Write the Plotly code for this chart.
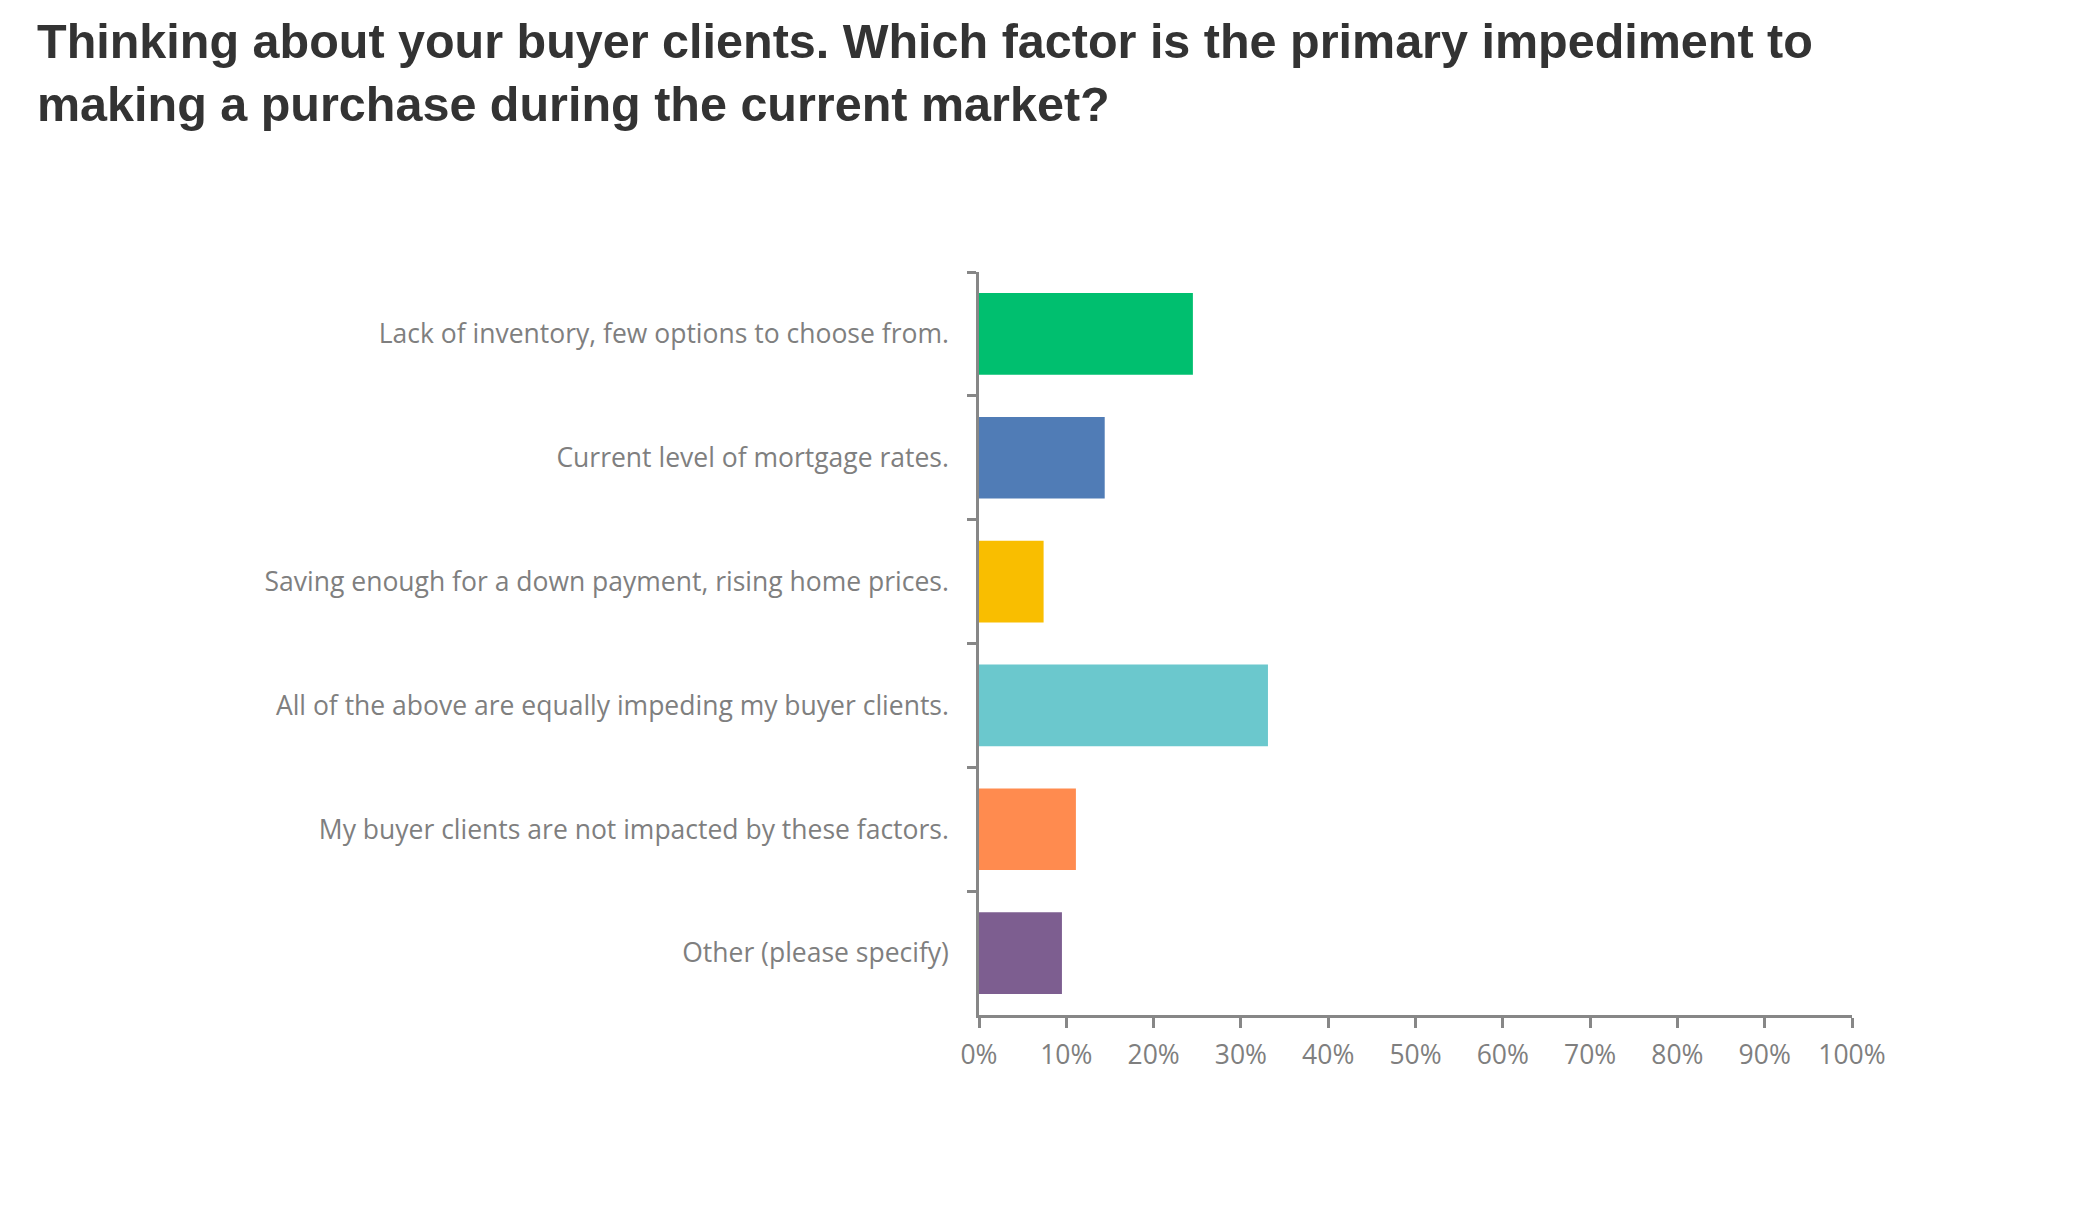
import plotly.graph_objects as go

# survey answers, top to bottom as in the chart
answers = [
    "Lack of inventory, few options to choose from.",
    "Current level of mortgage rates.",
    "Saving enough for a down payment, rising home prices.",
    "All of the above are equally impeding my buyer clients.",
    "My buyer clients are not impacted by these factors.",
    "Other (please specify)",
]
shares = [0.245, 0.144, 0.074, 0.331, 0.111, 0.095]
bar_colors = ["#00BF6F", "#507CB6", "#F9BE00", "#6BC8CD", "#FF8B4F", "#7D5E90"]
x_ticks = [0, 0.1, 0.2, 0.3, 0.4, 0.5, 0.6, 0.7, 0.8, 0.9, 1.0]

title_text = ("Thinking about your buyer clients. Which factor is the primary impediment to<br>"
              "making a purchase during the current market?")

axis_gray = "#878787"
label_gray = "#7f7f7f"

# page body has an 8px margin, so the figure is a bit smaller than the window
W, H = 2058, 1190
L, T = 971, 264
plot_w, plot_h = 873, 743

fig = go.Figure()
fig.add_trace(
    go.Bar(
        x=shares,
        y=answers,
        orientation="h",
        marker=dict(color=bar_colors, line=dict(width=0)),
        hoverinfo="x+y",
    )
)

fig.add_annotation(
    text=title_text,
    xref="paper", yref="paper",
    x=(27 - L) / plot_w, xanchor="left",
    y=1 + (T - 4) / plot_h, yanchor="top",
    align="left",
    showarrow=False,
    font=dict(family="Liberation Sans, Arial", size=48.5, color="#333333", weight="bold"),
)

fig.update_layout(
    width=W,
    height=H,
    margin=dict(l=L, r=W - L - plot_w, t=T, b=H - T - plot_h, autoexpand=False),
    paper_bgcolor="white",
    plot_bgcolor="white",
    bargap=0.34,
    showlegend=False,
    font=dict(family="Open Sans", color=label_gray),
)

fig.update_xaxes(
    range=[0, 1],
    tickvals=x_ticks,
    tickformat=".0%",
    showgrid=False,
    zeroline=False,
    showline=True,
    linecolor=axis_gray,
    linewidth=2.5,
    ticks="outside",
    ticklen=10,
    tickwidth=2.5,
    tickcolor=axis_gray,
    tickfont=dict(family="Open Sans", size=26.5, color=label_gray),
    ticklabelstandoff=4,
)

fig.update_yaxes(
    autorange="reversed",
    showgrid=False,
    zeroline=False,
    showline=True,
    linecolor=axis_gray,
    linewidth=2.5,
    ticks="outside",
    tickson="boundaries",
    ticklen=9,
    tickwidth=2.5,
    tickcolor=axis_gray,
    tickfont=dict(family="Open Sans", size=26.5, color=label_gray),
    ticklabelstandoff=22,
)

fig.write_html("out.html")
